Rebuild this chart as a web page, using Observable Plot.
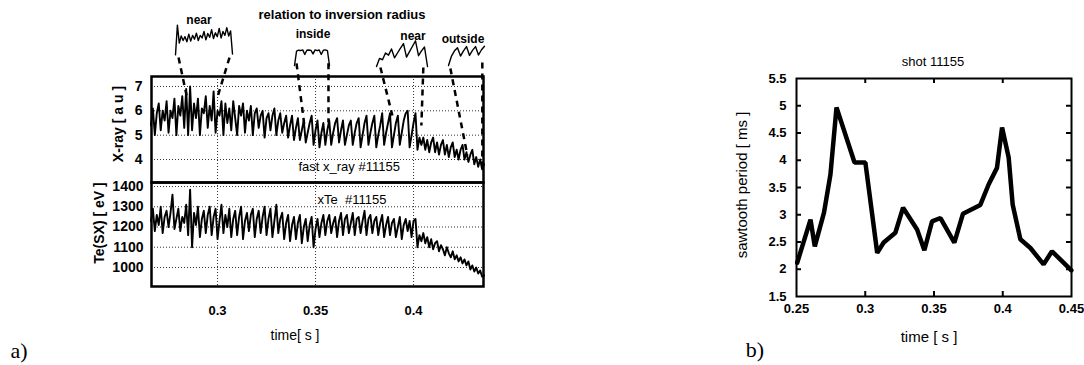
<!DOCTYPE html>
<html><head><meta charset="utf-8">
<script src="https://cdn.jsdelivr.net/npm/d3@7"></script>
<script src="https://cdn.jsdelivr.net/npm/@observablehq/plot@0.6"></script>
<style>
html,body{margin:0;padding:0;background:#fff;overflow:hidden}
#fig{position:relative;width:1084px;height:365px;font-family:"Liberation Sans",Arial,sans-serif;color:#000}
#fig svg{position:absolute;left:0;top:0;background:transparent;overflow:visible}
.box{position:absolute}
.lbl{position:absolute;white-space:pre;transform:translate(-50%,-50%);line-height:1}
.rot{transform:translate(-50%,-50%) rotate(-90deg)}
.b{font-weight:bold}
.serif{font-family:"Liberation Serif","Times New Roman",serif;font-size:22px}
</style></head><body><div id="fig"></div>
<script>
// ---------- panel a: soft X-ray and Te(SX) of shot #11155, sampled every 1 ms ----------
const t0 = 0.266, dt = 0.001;
const xray = [
  5.4, 6.1, 5.0, 5.9, 6.3, 5.2, 6.0, 5.6, 6.4, 5.1,
  6.0, 5.7, 6.5, 5.0, 6.2, 5.8, 6.6, 5.3, 6.9, 5.0,
  7.0, 5.2, 6.3, 5.7, 6.5, 5.0, 6.1, 5.9, 6.6, 5.3,
  6.2, 5.6, 6.8, 5.1, 6.0, 5.8, 6.4, 5.0, 6.3, 5.5,
  6.1, 5.2, 6.4, 5.7, 5.0, 6.2, 5.8, 6.3, 5.1, 6.0,
  5.6, 6.2, 5.0, 5.9, 6.1, 5.3, 5.8, 6.0, 4.9, 5.7,
  5.9, 5.2, 5.8, 6.1, 5.0, 5.6, 5.9, 5.1, 5.5, 5.8,
  4.9, 5.4, 5.8, 4.8, 5.3, 5.7, 4.8, 5.2, 5.6, 4.7,
  5.1, 5.5, 5.8, 4.6, 5.2, 5.6, 4.5, 5.1, 5.5, 4.6,
  5.2, 5.6, 4.6, 5.1, 5.5, 5.7, 4.7, 5.2, 5.6, 4.6,
  5.0, 5.4, 5.6, 4.6, 5.1, 5.5, 5.7, 4.5, 5.0, 5.5,
  5.8, 4.6, 5.1, 5.5, 5.8, 4.5, 5.0, 5.4, 5.9, 4.6,
  5.1, 5.5, 5.9, 4.5, 5.0, 5.5, 5.8, 4.6, 5.1, 5.6,
  5.9, 6.0, 4.5, 5.0, 5.5, 5.9, 4.4, 4.9, 4.6, 4.9,
  4.4, 4.8, 4.3, 4.7, 4.9, 4.3, 4.7, 4.2, 4.6, 4.8,
  4.2, 4.6, 4.1, 4.5, 4.7, 4.1, 4.4, 4.0, 4.4, 4.6,
  4.0, 4.3, 3.9, 4.2, 4.4, 3.8, 4.1, 3.7, 4.0, 3.6, 3.8
];
const te = [
  1230, 1290, 1180, 1260, 1210, 1300, 1170, 1250, 1280, 1200,
  1270, 1360, 1190, 1240, 1290, 1180, 1250, 1220, 1310, 1160,
  1385, 1100, 1270, 1210, 1300, 1150, 1240, 1280, 1170, 1260,
  1300, 1160, 1250, 1290, 1140, 1230, 1310, 1170, 1260, 1200,
  1290, 1150, 1240, 1280, 1160, 1250, 1300, 1140, 1230, 1270,
  1180, 1260, 1290, 1150, 1240, 1280, 1170, 1250, 1300, 1160,
  1240, 1290, 1150, 1230, 1310, 1170, 1240, 1270, 1140, 1220,
  1260, 1130, 1210, 1250, 1140, 1220, 1260, 1120, 1200, 1240,
  1130, 1210, 1250, 1100, 1190, 1240, 1150, 1220, 1260, 1160,
  1230, 1260, 1170, 1220, 1250, 1150, 1230, 1270, 1160, 1240,
  1260, 1170, 1220, 1270, 1160, 1240, 1250, 1170, 1230, 1280,
  1160, 1240, 1260, 1170, 1230, 1250, 1160, 1220, 1260, 1150,
  1210, 1250, 1160, 1220, 1240, 1150, 1200, 1250, 1140, 1210,
  1240, 1180, 1230, 1150, 1230, 1240, 1100, 1160, 1130, 1170,
  1120, 1150, 1100, 1140, 1090, 1120, 1130, 1080, 1110, 1090,
  1060, 1100, 1070, 1050, 1080, 1040, 1060, 1030, 1050, 1020,
  1040, 1010, 1030, 990, 1010, 980, 1000, 970, 985, 955, 960
];
const timeTicksA = [0.3, 0.35, 0.4];
const xrayTicks = [4, 5, 6, 7];
const teTicks = [1000, 1100, 1200, 1300, 1400];

// dashed connectors from each zoomed window down to the X-ray trace (time, X-ray units)
const linkT1 = [0.2801, 0.3061, 0.3403, 0.3566, 0.3831, 0.4050, 0.4188, 0.4351];
const linkV1 = [8.19, 8.19, 7.95, 7.95, 7.78, 7.78, 7.74, 7.99];
const linkT2 = [0.2842, 0.2999, 0.3443, 0.3566, 0.3892, 0.4040, 0.4275, 0.4351];
const linkV2 = [6.63, 6.55, 5.40, 5.52, 5.81, 5.40, 4.16, 3.63];

// zoomed windows: position relative to the inversion radius
const windowLabels = ["near", "inside", "near", "outside"];
const windowNear1 = [0.5, 9.8, 4.2, 6.4, 5.0, 6.2, 4.6, 7.0, 4.8, 6.6, 5.4, 7.3, 5.0, 6.6, 5.8, 7.8,
  5.2, 7.2, 6.0, 8.4, 5.6, 7.4, 6.2, 8.8, 5.8, 7.8, 6.6, 9.0, 6.4, 8.0, 0.8];
const windowInside = [0, 8.5, 9.0, 8.8, 9.2, 6.5, 9.0, 9.1, 8.9, 6.8, 9.2, 8.7, 9.1, 6.5, 9.0, 9.2, 8.8, 0];
const windowNear2 = [0, 3.0, 2.5, 5.0, 4.2, 6.5, 3.2, 5.0, 6.8, 8.5, 3.5, 5.5, 7.5, 9.5, 4.0, 5.8, 7.2, 0];
const windowOutside = [0, 4.5, 7.0, 8.5, 4.5, 7.0, 9.0, 4.8, 7.2, 9.0, 5.0, 7.5, 9.2];

// ---------- panel b: sawtooth period vs time ----------
const periodTime = [0.2505, 0.2602, 0.2633, 0.2700, 0.2747, 0.2791, 0.2922, 0.3001, 0.3087, 0.3134,
  0.3219, 0.3275, 0.3377, 0.3430, 0.3486, 0.3547, 0.3648, 0.3711, 0.3837, 0.3898,
  0.3958, 0.3995, 0.4043, 0.4072, 0.4128, 0.4201, 0.4297, 0.4358, 0.4499];
const periodMs = [2.12, 2.91, 2.42, 3.04, 3.74, 4.97, 3.96, 3.96, 2.30, 2.49,
  2.67, 3.13, 2.73, 2.35, 2.88, 2.94, 2.49, 3.02, 3.18, 3.56,
  3.86, 4.60, 4.05, 3.19, 2.55, 2.39, 2.09, 2.33, 1.98];
const timeTicksB = [0.25, 0.3, 0.35, 0.4, 0.45];
const periodTicks = [1.5, 2, 2.5, 3, 3.5, 4, 4.5, 5, 5.5];

// ---------- drawing ----------
const fig = document.getElementById("fig");
const W = 1084, H = 365;
const base = {
  width: W, height: H,
  style: {background: "transparent", fontFamily: '"Liberation Sans", Arial, sans-serif', fontSize: "13px", fontWeight: "bold", overflow: "visible", color: "#000"}
};
const plain = d => String(d);
const xraySeries = xray.map((v, i) => ({t: t0 + i * dt, v}));
const teSeries = te.map((v, i) => ({t: t0 + i * dt, v}));
const links = linkT1.map((t, i) => ({t1: t, v1: linkV1[i], t2: linkT2[i], v2: linkV2[i]}));
const periodSeries = periodTime.map((t, i) => ({t, p: periodMs[i]}));
const timeDomainA = [0.2663, 0.4357];
const dotted = {stroke: "#333", strokeOpacity: 1, strokeWidth: 1, strokeDasharray: "1,2"};

const upper = Plot.plot({
  ...base,
  marginLeft: 151, marginRight: 601, marginTop: 76, marginBottom: 183,
  x: {domain: timeDomainA, axis: null},
  y: {domain: [3.055, 7.41]},
  marks: [
    Plot.gridX(timeTicksA, dotted),
    Plot.gridY(xrayTicks, dotted),
    Plot.axisY(xrayTicks, {tickSize: 0, tickPadding: 9, tickFormat: plain, label: null, fontSize: 14}),
    Plot.line(xraySeries, {x: "t", y: "v", stroke: "#000", strokeWidth: 1.9}),
    Plot.text(["fast x_ray #11155"], {x: 0.3413, frameAnchor: "bottom", dy: -12, textAnchor: "start", fontSize: 13, fontWeight: "normal"}),
    Plot.link(links, {x1: "t1", y1: "v1", x2: "t2", y2: "v2", stroke: "#000", strokeWidth: 2.5, strokeDasharray: "6,5"}),
    Plot.frame({stroke: "#000", strokeWidth: 2.5})
  ]
});

const lower = Plot.plot({
  ...base,
  marginLeft: 151, marginRight: 601, marginTop: 182, marginBottom: 79,
  x: {domain: timeDomainA},
  y: {domain: [906, 1420]},
  marks: [
    Plot.gridX(timeTicksA, dotted),
    Plot.gridY(teTicks, dotted),
    Plot.axisY(teTicks, {tickSize: 0, tickPadding: 8, tickFormat: plain, label: null, fontSize: 14}),
    Plot.axisX(timeTicksA, {tickSize: 0, tickPadding: 19, tickFormat: plain, label: null}),
    Plot.line(teSeries, {x: "t", y: "v", stroke: "#000", strokeWidth: 1.9}),
    Plot.text(["xTe  #11155"], {x: 0.35, frameAnchor: "top", dx: 2, dy: 12, textAnchor: "start", fontSize: 13, fontWeight: "normal"}),
    Plot.frame({stroke: "#000", strokeWidth: 2.5})
  ]
});

const frameWb = 1084 - 796 - 13, frameHb = 365 - 78 - 69;
const innerTimeB = timeTicksB.slice(1, -1), innerPeriod = periodTicks.slice(1, -1);
const panelB = Plot.plot({
  ...base,
  marginLeft: 796, marginRight: 13, marginTop: 78, marginBottom: 69,
  x: {domain: [0.25, 0.45]},
  y: {domain: [1.5, 5.5]},
  marks: [
    Plot.axisX(timeTicksB, {tickSize: 0, tickPadding: 7, tickFormat: plain, label: null}),
    Plot.axisY(periodTicks, {tickSize: 0, tickPadding: 10, tickFormat: plain, label: null}),
    Plot.ruleX(innerTimeB, {insetTop: frameHb - 5, strokeWidth: 2}),
    Plot.ruleX(innerTimeB, {insetBottom: frameHb - 5, strokeWidth: 2}),
    Plot.ruleY(innerPeriod, {insetRight: frameWb - 5, strokeWidth: 2}),
    Plot.ruleY(innerPeriod, {insetLeft: frameWb - 5, strokeWidth: 2}),
    Plot.line(periodSeries, {x: "t", y: "p", stroke: "#000", strokeWidth: 4.5, strokeLinejoin: "miter"}),
    Plot.frame({stroke: "#000", strokeWidth: 2})
  ]
});

fig.append(upper, lower, panelB);

// small traces of the zoomed windows
function windowTrace(values, left, top, w, h) {
  const box = document.createElement("div");
  box.className = "box";
  box.style.left = left + "px"; box.style.top = top + "px";
  box.style.width = w + "px"; box.style.height = h + "px";
  box.append(Plot.plot({
    width: w, height: h, margin: 0,
    style: {background: "transparent", overflow: "visible"},
    x: {domain: [0, values.length - 1], axis: null},
    y: {domain: [0, 10], axis: null},
    marks: [Plot.line(values, {x: (d, i) => i, y: d => d, stroke: "#000", strokeWidth: 1.4})]
  }));
  fig.append(box);
}
windowTrace(windowNear1, 175, 24, 57, 32);
windowTrace(windowInside, 294, 48, 35, 17);
windowTrace(windowNear2, 376, 39, 51, 27);
windowTrace(windowOutside, 448, 44, 36, 21);

// text labels
function label(text, x, y, cls, size) {
  const d = document.createElement("div");
  d.className = "lbl " + (cls || "");
  d.textContent = text;
  d.style.left = x + "px"; d.style.top = y + "px";
  if (size) d.style.fontSize = size + "px";
  fig.append(d);
}
label("relation to inversion radius", 342, 14, "b", 13);
label(windowLabels[0], 199, 20, "b", 12);
label(windowLabels[1], 313, 34, "b", 12);
label(windowLabels[2], 413, 36, "b", 12);
label(windowLabels[3], 463, 39, "b", 12);
label("X-ray [ a u ]", 118, 124, "b rot", 14);
label("Te(SX) [ eV ]", 99, 223, "b rot", 14);
label("time[ s ]", 295, 335, "", 14);
label("a)", 19, 351, "serif");
label("shot 11155", 933, 61, "", 13);
label("sawtooth period [ ms ]", 741, 185, "rot", 15);
label("time [ s ]", 929, 336, "", 15);
label("b)", 755, 350, "serif");
</script></body></html>
